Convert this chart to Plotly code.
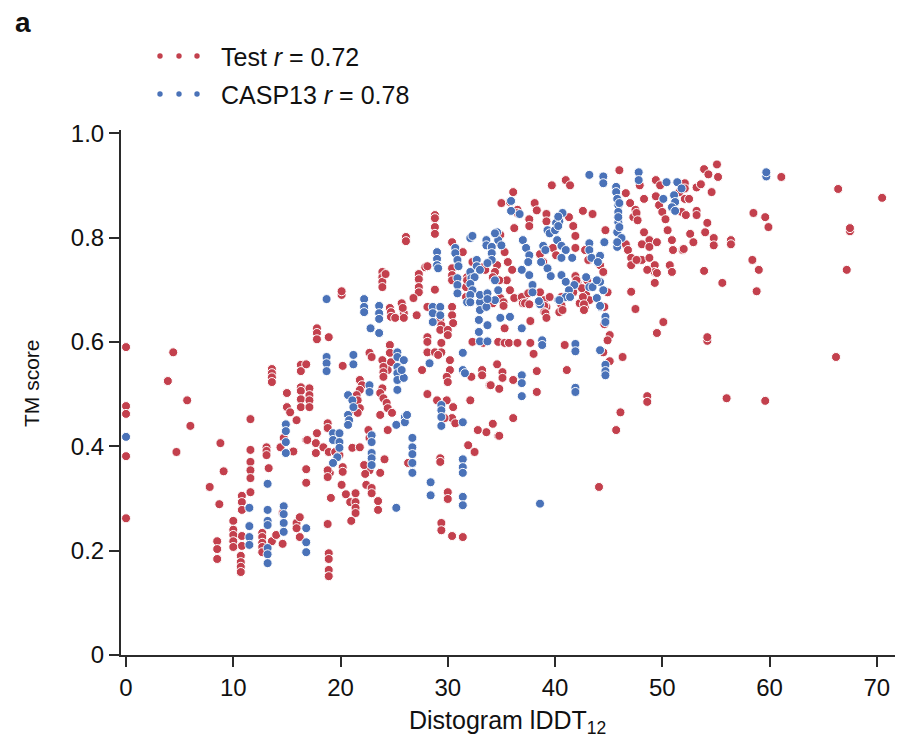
import plotly.graph_objects as go

# ---------------- data ----------------
test_points = [
    (0,.59),(0,.477),(0,.462),(0,.381),(0,.262),
    (4.4,.58),(3.9,.525),(5.7,.488),(6.0,.439),(4.7,.389),(8.8,.406),(9.1,.352),
    (13.6,.548),(13.6,.54),(13.6,.532),(13.6,.523),
    (11.6,.452),(11.6,.393),(11.6,.37),(11.6,.354),(11.6,.339),(11.6,.312),
    (13.1,.398),(13.1,.391),(13.1,.383),(13.3,.358),
    (14.7,.416),(14.4,.398),(15.0,.502),(15.0,.475),(15.3,.465),(15.9,.45),(15.6,.39),
    (16.3,.556),(16.3,.544),(16.3,.513),(16.3,.506),(16.3,.49),(16.3,.475),(16.8,.557),
    (16.8,.412),(16.8,.356),(7.8,.322),(8.7,.289),
    (10.8,.305),(10.8,.293),(10.8,.278),(10.8,.228),(10.8,.209),
    (10.0,.257),(10.0,.24),(10.0,.23),(10.0,.218),(10.0,.207),
    (8.5,.218),(8.5,.203),(8.5,.184),
    (10.7,.19),(10.7,.178),(10.7,.169),(10.7,.159),
    (12.7,.234),(12.7,.226),(12.7,.215),(12.7,.207),(12.7,.197),
    (13.6,.218),(14.0,.23),(14.6,.213),(14.6,.272),
    (15.9,.253),(15.9,.243),(16.2,.264),(16.2,.226),(16.8,.33),
    (20.1,.69),(20.1,.697),
    (23.9,.734),(23.9,.724),(23.9,.715),(23.9,.705),(24.2,.73),
    (26.1,.801),(26.1,.793),
    (27.3,.73),(27.3,.72),(27.3,.705),(27.3,.695),(27.9,.743),(28.1,.745),
    (28.8,.843),(28.8,.837),(28.8,.82),(28.8,.807),(28.8,.70),
    (28.1,.667),(26.8,.684),(24.6,.665),
    (30.4,.791),(30.4,.741),(30.4,.728),(30.4,.718),(31.4,.772),(31.7,.705),(31.7,.686),
    (17.8,.626),(17.8,.617),(17.8,.605),(18.9,.609),(20.2,.554),
    (17.1,.511),(17.1,.498),(17.1,.488),(17.1,.475),
    (24.7,.657),(24.7,.648),(25.1,.646),(25.9,.655),(25.9,.646),(27.1,.651),(25.7,.674),(25.8,.665),
    (29.3,.642),(29.4,.632),(29.3,.623),
    (30.4,.667),(30.4,.651),(30.5,.636),(30.0,.623),(30.0,.613),
    (28.1,.609),(28.1,.60),(29.4,.598),(28.1,.58),(28.8,.58),(29.4,.58),
    (30.2,.565),(30.2,.546),(29.9,.533),(30.0,.523),
    (32.2,.533),(33.2,.546),(33.2,.536),(32.3,.60),(33.3,.598),
    (33.9,.517),(32.1,.488),(34.2,.443),(33.6,.427),(34.7,.42),(32.8,.431),(31.9,.402),(32.5,.389),
    (29.3,.377),(29.3,.37),(26.3,.368),
    (29.0,.488),(29.9,.488),(30.5,.475),(30.4,.454),(30.7,.444),(29.7,.454),
    (28.1,.50),(27.6,.546),(29.1,.575),
    (24.6,.594),(24.6,.579),(24.7,.561),(24.4,.546),
    (23.9,.565),(24.0,.552),(24.0,.542),(24.0,.533),
    (23.9,.511),(23.7,.502),(24.0,.492),(24.3,.483),(24.4,.473),
    (22.7,.579),(22.9,.571),
    (21.8,.527),(22.0,.517),(21.8,.508),(21.5,.498),(21.6,.488),
    (21.8,.473),(21.3,.469),(21.6,.464),(23.7,.46),(24.4,.431),(24.8,.464),
    (22.6,.431),(22.7,.416),(24.1,.375),(22.7,.354),(23.7,.349),(22.3,.347),
    (18.8,.444),(18.8,.435),(17.8,.425),(16.9,.412),(17.7,.406),(17.7,.387),(18.4,.398),(18.9,.389),(19.5,.389),
    (19.9,.383),(20.2,.36),(20.2,.351),(21.1,.397),(21.8,.398),(19.0,.349),
    (18.8,.354),(18.8,.341),(20.1,.326),(20.5,.308),(19.1,.301),(20.9,.293),
    (21.4,.31),(21.4,.293),(21.4,.282),(21.4,.272),
    (22.2,.364),(22.4,.326),(22.9,.32),(22.9,.31),(23.5,.295),(23.5,.278),
    (21.0,.257),(18.8,.251),
    (18.9,.195),(18.9,.184),(18.9,.163),(18.9,.151),
    (30.0,.312),(30.0,.299),(29.4,.253),(29.4,.239),(30.4,.228),(31.4,.226),
    (46.0,.929),(47.9,.90),(49.4,.91),(49.8,.90),(39.7,.90),(41.0,.91),(41.4,.90),(36.1,.887),(35.0,.866),(35.8,.868),
    (38.1,.866),(38.3,.852),(39.2,.845),(39.2,.831),(37.6,.835),(37.6,.822),
    (41.3,.839),(41.7,.822),(41.9,.803),(42.6,.851),(43.5,.845),
    (46.6,.885),(47.0,.866),(47.5,.853),(47.3,.839),
    (48.3,.874),(49.4,.879),(51.6,.887),(52.1,.874),
    (49.7,.862),(50.0,.849),(50.3,.835),(51.8,.849),(52.2,.843),
    (48.3,.81),(48.8,.795),(50.5,.814),(50.9,.795),(51.0,.776),(51.9,.776),(48.1,.787),(49.5,.791),
    (46.6,.787),(46.8,.776),(44.7,.814),(42.8,.776),(43.1,.757),(44.2,.747),(44.5,.734),
    (41.9,.78),(47.1,.761),(47.1,.747),(49.3,.747),(49.3,.734),(50.7,.747),(50.9,.734),(47.1,.696),
    (38.6,.768),(38.9,.753),(39.8,.78),(40.1,.766),(36.2,.818),(34.9,.805),(34.9,.787),(35.3,.772),
    (35.6,.753),(36.0,.738),(35.5,.718),(35.8,.699),(36.2,.684),(37.2,.688),(38.6,.695),(39.0,.68),
    (41.9,.726),(42.1,.713),(42.9,.69),(43.2,.68),(44.5,.667),(40.6,.686),(40.6,.67),
    (36.5,.853),(36.5,.847),
    (47.6,.847),(47.7,.833),(48.8,.782),(48.1,.757),(48.6,.738),(49.5,.732),(49.3,.713),
    (47.6,.757),(48.8,.761),
    (36.9,.686),(37.0,.674),(37.5,.693),(38.9,.667),(39.2,.667),(39.5,.686),(41.7,.695),(42.3,.674),
    (42.6,.686),(42.8,.667),(44.6,.667),(44.9,.695),(43.0,.718),(42.0,.718),(42.5,.703),
    (33.3,.743),(33.5,.738),(34.6,.747),(34.4,.734),(34.2,.724),(34.8,.718),(32.3,.753),(31.8,.724),(31.8,.718),
    (33.5,.667),(33.2,.676),(34.2,.674),(34.9,.684),
    (35.2,.676),(35.2,.669),(37.2,.674),(37.6,.672),(39.0,.669),(39.0,.657),(40.4,.657),(40.7,.661),
    (42.7,.672),(42.7,.661),(47.5,.663),(44.6,.634),(50.1,.638),
    (37.7,.64),(39.1,.655),(39.2,.646),(35.3,.626),(49.5,.617),(45.1,.613),(44.9,.603),
    (34.7,.60),(35.3,.598),(35.7,.598),(36.5,.598),(37.7,.598),(40.9,.594),(44.5,.58),(45.1,.563),(46.3,.571),(38.0,.577),(34.6,.557),
    (35.1,.542),(35.1,.531),(38.3,.544),(41.1,.546),(36.1,.527),(34.0,.517),(34.8,.51),(38.3,.504),
    (48.6,.496),(48.6,.485),(46.1,.465),(36.1,.454),(34.8,.42),(45.7,.431),(44.1,.322),
    (55.1,.94),(53.9,.931),(54.3,.921),(55.2,.916),(52.1,.904),(52.1,.894),(53.2,.896),(53.6,.902),(54.6,.887),
    (61.1,.916),(66.4,.893),(70.5,.876),(52.5,.874),(53.2,.851),(53.2,.843),(58.5,.847),(59.6,.839),(59.9,.82),
    (67.5,.812),(67.5,.818),(54.2,.828),(54.0,.81),(52.6,.807),(52.9,.791),(54.8,.799),(54.8,.785),(56.4,.795),(56.4,.787),
    (52.0,.778),(58.4,.757),(59.0,.738),(67.2,.738),(53.9,.736),(55.6,.713),(58.8,.697),
    (54.2,.602),(54.2,.609),(66.2,.571),(56.0,.492),(59.6,.487),
]

casp_points = [
    (0,.418),
    (14.9,.442),(14.9,.429),(14.9,.408),(14.9,.387),
    (11.5,.282),(11.5,.247),(11.5,.226),(11.5,.211),
    (13.2,.328),(13.2,.278),(13.2,.257),(13.2,.249),(13.2,.205),(13.2,.193),(13.2,.176),
    (14.7,.285),(14.7,.27),(14.7,.253),(14.7,.236),
    (16.8,.243),(16.8,.216),(16.8,.197),
    (18.7,.682),(22.2,.682),(22.2,.667),(23.6,.669),
    (29.0,.772),(29.0,.759),(29.0,.747),(29.1,.741),
    (30.7,.78),(30.7,.77),(30.9,.757),(31.0,.745),
    (30.9,.722),(30.9,.709),(30.9,.693),(32.1,.799),(32.3,.803),
    (18.7,.571),(18.7,.559),(18.7,.544),(21.2,.575),(21.2,.557),
    (22.2,.657),(23.6,.655),(23.6,.644),(22.8,.626),(23.6,.617),
    (28.6,.667),(28.6,.655),(28.6,.638),(29.3,.667),(29.3,.651),
    (31.4,.579),(31.4,.546),(31.6,.54),
    (31.8,.676),(33.0,.676),(33.0,.661),(33.6,.667),
    (32.9,.642),(32.9,.619),(33.0,.601),(33.7,.632),(33.7,.601),
    (31.4,.375),(31.4,.36),(31.4,.349),
    (26.7,.416),(26.7,.398),(26.7,.385),(26.7,.368),(26.7,.349),
    (29.4,.479),(29.4,.469),(29.4,.456),(29.4,.439),
    (31.4,.446),(28.3,.559),
    (25.3,.58),(25.3,.571),(25.3,.552),(25.3,.54),(25.3,.527),(25.3,.508),
    (25.9,.565),(25.9,.531),(25.7,.546),
    (22.7,.517),(22.7,.504),
    (20.7,.498),(21.1,.488),(21.2,.475),(20.7,.46),(20.8,.45),(20.7,.441),
    (25.2,.441),(26.0,.456),(26.0,.446),(26.2,.46),
    (22.9,.421),(22.9,.408),(22.9,.387),(22.9,.377),(22.9,.364),
    (19.3,.425),(19.3,.412),(19.9,.425),(19.9,.408),(19.9,.397),(19.7,.379),(19.3,.368),
    (25.2,.282),(28.4,.331),(28.4,.306),(31.4,.303),(31.4,.287),
    (43.2,.92),(44.5,.917),(44.5,.904),(47.8,.925),(47.8,.91),
    (50.4,.906),(51.4,.906),(51.8,.894),
    (35.9,.870),(35.9,.851),(36.7,.845),
    (40.7,.847),(40.4,.831),(40.1,.828),
    (45.9,.862),(45.9,.849),(45.9,.829),(45.8,.81),(46.2,.799),
    (50.1,.874),(51.1,.881),(51.2,.868),(50.9,.858),(51.2,.851),
    (45.8,.782),
    (43.2,.789),(43.2,.776),(43.4,.761),(44.2,.765),(44.0,.753),
    (34.6,.81),(34.7,.795),(35.0,.785),
    (37.0,.795),(37.3,.78),(37.6,.766),(37.5,.753),(36.9,.738),
    (38.9,.784),(39.1,.776),(38.7,.753),(39.3,.741),(39.6,.726),
    (40.2,.795),(40.6,.784),(41.0,.776),(40.6,.761),(41.6,.761),
    (40.6,.728),(41.8,.709),(42.9,.724),(44.2,.715),(44.5,.699),
    (34.4,.718),(34.7,.699),(34.4,.68),
    (37.6,.728),(37.9,.709),(37.9,.695),
    (41.0,.715),(41.3,.699),(41.0,.686),(43.9,.684),
    (39.3,.814),(39.5,.808),(40.0,.814),(40.3,.822),(40.3,.84),
    (44.6,.791),(45.9,.839),(46.0,.82),(45.8,.791),
    (45.7,.897),(45.7,.887),(45.8,.874),(46.0,.866),
    (38.6,.672),(40.3,.68),(41.4,.686),(43.2,.705),(43.5,.705),(43.9,.718),(44.2,.667),
    (34.4,.808),(33.6,.795),(33.6,.785),(34.1,.782),(34.1,.77),(34.1,.757),(33.7,.751),
    (32.7,.757),(32.7,.745),(33.0,.738),(32.1,.734),(32.2,.722),(32.5,.724),(32.1,.711),(32.3,.699),
    (32.1,.69),(32.1,.676),(33.0,.69),(33.7,.693),(33.7,.682),
    (38.5,.678),(40.4,.68),(44.2,.669),(44.7,.648),(44.7,.638),(34.9,.646),(35.8,.648),(36.9,.626),
    (38.8,.603),(38.8,.594),(41.9,.596),(41.9,.582),(44.2,.584),
    (44.7,.556),(44.7,.544),(44.7,.536),(36.9,.536),(36.9,.521),(36.9,.496),(41.9,.512),(41.9,.504),(38.6,.29),
    (59.7,.917),(59.7,.925),
]

test_x = [p[0] for p in test_points]
test_y = [p[1] for p in test_points]
casp_x = [p[0] for p in casp_points]
casp_y = [p[1] for p in casp_points]

x_ticks = [0, 10, 20, 30, 40, 50, 60, 70]
y_ticks = [0, 0.2, 0.4, 0.6, 0.8, 1.0]
y_tick_labels = ["0", "0.2", "0.4", "0.6", "0.8", "1.0"]

RED = "#C3404D"
BLUE = "#4A72B8"
AXIS = "#2b2b2b"
FONT = "Liberation Sans, Arial, sans-serif"

fig = go.Figure()
fig.add_trace(go.Scatter(x=test_x, y=test_y, mode="markers", name="Test",
                         marker=dict(size=9, color=RED, line=dict(color="white", width=1)),
                         showlegend=False))
fig.add_trace(go.Scatter(x=casp_x, y=casp_y, mode="markers", name="CASP13",
                         marker=dict(size=9, color=BLUE, line=dict(color="white", width=1)),
                         showlegend=False))

L, R, T, B = 121, 5, 130, 90
W, H = 900, 745
pw, ph = W - L - R, H - T - B

def px2paper(px, py):
    return (px - L) / pw, (H - B - py) / ph

# legend (manual)
for color, py, label in [(RED, 56, "Test <i>r</i> = 0.72"), (BLUE, 94, "CASP13 <i>r</i> = 0.78")]:
    for dx in (160, 179, 197):
        cx, cy = px2paper(dx, py)
        rx, ry = 2.7 / pw, 2.7 / ph
        fig.add_shape(type="circle", xref="paper", yref="paper",
                      x0=cx - rx, x1=cx + rx, y0=cy - ry, y1=cy + ry,
                      fillcolor=color, line=dict(width=0))
    tx, ty = px2paper(219, py + 1)
    fig.add_annotation(x=tx, y=ty, xref="paper", yref="paper", text=label, showarrow=False,
                       xanchor="left", yanchor="middle", font=dict(family=FONT, size=25, color="#111"))

ax, ay = px2paper(13, 23)
fig.add_annotation(x=ax, y=ay, xref="paper", yref="paper", text="<b>a</b>", showarrow=False,
                   xanchor="left", yanchor="middle", font=dict(family=FONT, size=28, color="#111"))

# axis titles
tx, ty = px2paper(507, 722)
fig.add_annotation(x=tx, y=ty, xref="paper", yref="paper", text="Distogram lDDT<sub>12</sub>",
                   showarrow=False, xanchor="center", yanchor="middle",
                   font=dict(family=FONT, size=25, color="#111"))
tx, ty = px2paper(31, 383)
fig.add_annotation(x=tx, y=ty, xref="paper", yref="paper", text="TM score", textangle=-90,
                   showarrow=False, xanchor="center", yanchor="middle",
                   font=dict(family=FONT, size=21, color="#111"))

fig.update_layout(
    width=W, height=H,
    margin=dict(l=L, r=R, t=T, b=B, autoexpand=False),
    paper_bgcolor="white", plot_bgcolor="white",
    font=dict(family=FONT, size=20, color="#111"),
    xaxis=dict(range=[-0.47, 71.7], tickvals=x_ticks, showgrid=False, zeroline=False,
               showline=True, linecolor=AXIS, linewidth=2, ticks="outside", ticklen=10,
               tickwidth=1.5, tickcolor=AXIS, tickfont=dict(size=24), automargin=False),
    yaxis=dict(range=[0, 1.006], tickvals=y_ticks, ticktext=y_tick_labels, showgrid=False,
               zeroline=False, showline=True, linecolor=AXIS, linewidth=2, ticks="outside",
               ticklen=10, tickwidth=1.5, tickcolor=AXIS, tickfont=dict(size=24), automargin=False),
)

fig.write_html("out.html", config={"displayModeBar": False},
               post_script="document.body.style.margin='0';document.body.style.padding='0';"
                           "document.body.style.overflow='hidden';")
